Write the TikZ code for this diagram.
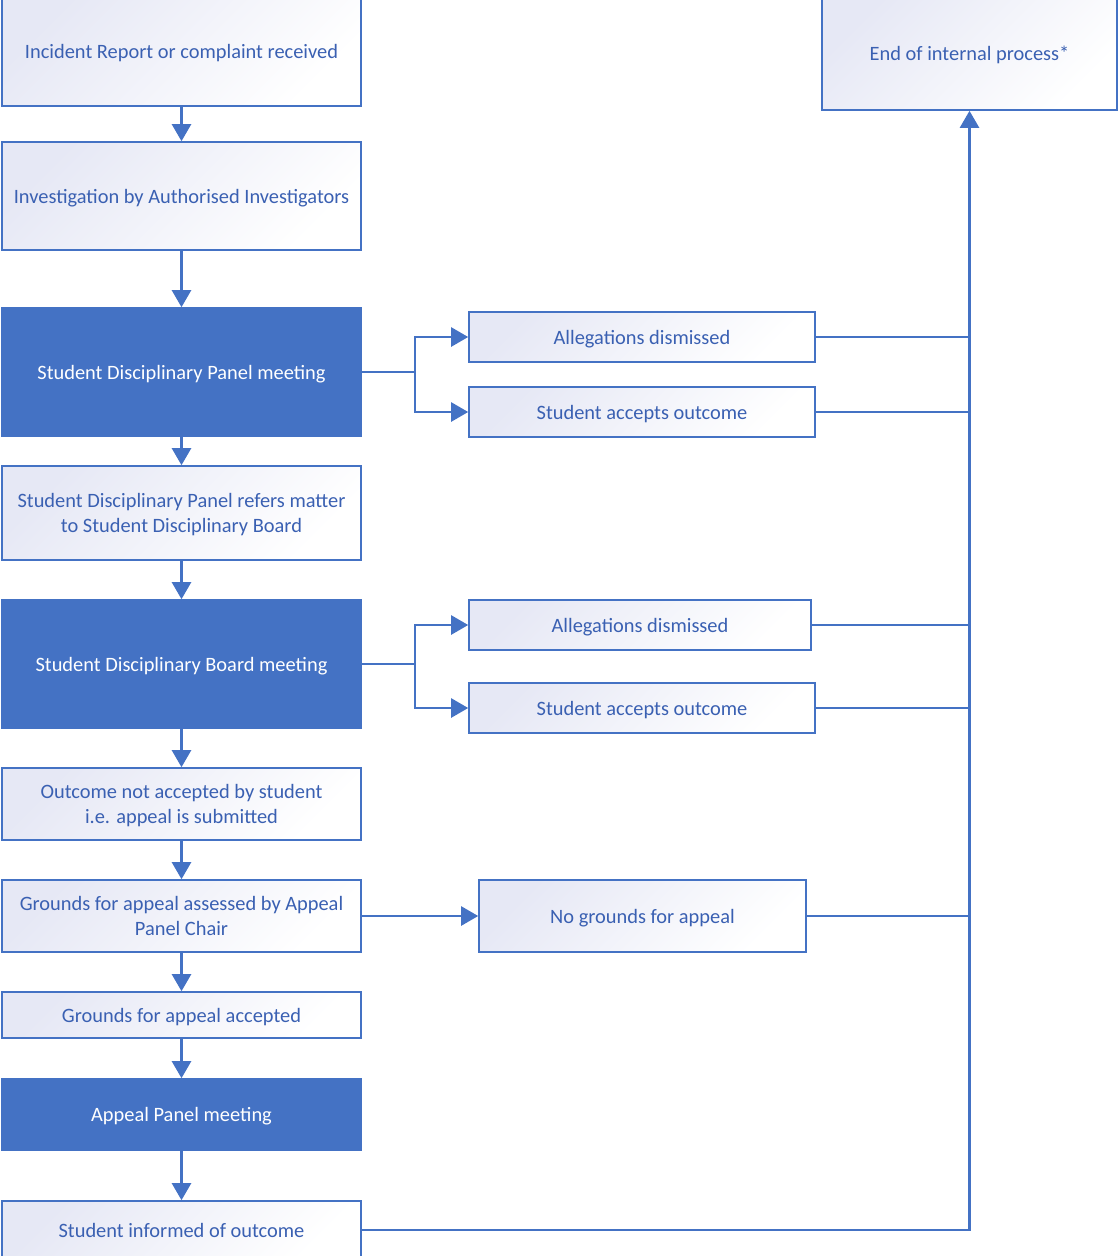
\documentclass[tikz,border=0pt]{standalone}
\usepackage{fontspec}
\setmainfont{Carlito}
\usetikzlibrary{arrows.meta}
\definecolor{obl}{RGB}{68,114,196}
\definecolor{txt}{RGB}{58,96,178}
\definecolor{grad}{RGB}{230,232,245}
\tikzset{
  base/.style={rectangle, inner sep=0pt, align=center, line width=1.6pt, draw=obl,
     text depth=0pt, font=\fontsize{20.4}{25}\selectfont},
  lbox/.style={base, top color=grad, bottom color=white, shading angle=45, text=txt},
  dbox/.style={base, fill=obl, text=white},
  conn/.style={draw=obl, line width=2.4pt},
  arr/.style={conn, -{Triangle[width=19pt,length=17pt]}},
}
\begin{document}
\begin{tikzpicture}[x=1pt,y=-1pt]
\useasboundingbox (0,0) rectangle (1119,1256);
% left column
\node[lbox, minimum width=359pt, minimum height=110pt] (b1) at (181.5,51) {Incident Report or complaint received};
\node[lbox, minimum width=359pt, minimum height=108pt] (b2) at (181.5,196) {Investigation by Authorised Investigators};
\node[dbox, minimum width=359pt, minimum height=128pt] (b3) at (181.5,372) {Student Disciplinary Panel meeting};
\node[lbox, minimum width=359pt, minimum height=94pt] (b4) at (181.5,513) {Student Disciplinary Panel refers matter\\to Student Disciplinary Board};
\node[dbox, minimum width=359pt, minimum height=128pt] (b5) at (181.5,664) {Student Disciplinary Board meeting};
\node[lbox, minimum width=359pt, minimum height=72pt] (b6) at (181.5,804) {Outcome not accepted by student\\i.e. appeal is submitted};
\node[lbox, minimum width=359pt, minimum height=72pt] (b7) at (181.5,916) {Grounds for appeal assessed by Appeal\\Panel Chair};
\node[lbox, minimum width=359pt, minimum height=46pt] (b8) at (181.5,1015) {Grounds for appeal accepted};
\node[dbox, minimum width=359pt, minimum height=71pt] (b9) at (181.5,1114.5) {Appeal Panel meeting};
\node[lbox, minimum width=359pt, minimum height=58pt] (b10) at (181.5,1230) {Student informed of outcome};
% right column
\node[lbox, minimum width=346pt, minimum height=50pt] (ad1) at (642,337) {Allegations dismissed};
\node[lbox, minimum width=346pt, minimum height=50pt] (sa1) at (642,412) {Student accepts outcome};
\node[lbox, minimum width=342pt, minimum height=50pt] (ad2) at (640,625) {Allegations dismissed};
\node[lbox, minimum width=346pt, minimum height=50pt] (sa2) at (642,708) {Student accepts outcome};
\node[lbox, minimum width=327pt, minimum height=72pt] (ng) at (642.5,916) {No grounds for appeal};
\node[lbox, minimum width=295pt, minimum height=114pt] (fin) at (969.5,53) {End of internal process*};
% vertical flow
\draw[arr] (b1) -- (b2);
\draw[arr] (b2) -- (b3);
\draw[arr] (b3) -- (b4);
\draw[arr] (b4) -- (b5);
\draw[arr] (b5) -- (b6);
\draw[arr] (b6) -- (b7);
\draw[arr] (b7) -- (b8);
\draw[arr] (b8) -- (b9);
\draw[arr] (b9) -- (b10);
% branches
\coordinate (j1) at (415,372);
\coordinate (j2) at (415,664);
\draw[conn] (b3.east) -- (j1);
\draw[arr] (j1) |- (ad1.west);
\draw[arr] (j1) |- (sa1.west);
\draw[conn] (b5.east) -- (j2);
\draw[arr] (j2) |- (ad2.west);
\draw[arr] (j2) |- (sa2.west);
\draw[arr] (b7.east) -- (ng.west);
% to end
\draw[arr] (b10.east) -| (fin.south);
\draw[conn] (ad1.east) -- (ad1.east -| fin.south);
\draw[conn] (sa1.east) -- (sa1.east -| fin.south);
\draw[conn] (ad2.east) -- (ad2.east -| fin.south);
\draw[conn] (sa2.east) -- (sa2.east -| fin.south);
\draw[conn] (ng.east) -- (ng.east -| fin.south);
\end{tikzpicture}
\end{document}
